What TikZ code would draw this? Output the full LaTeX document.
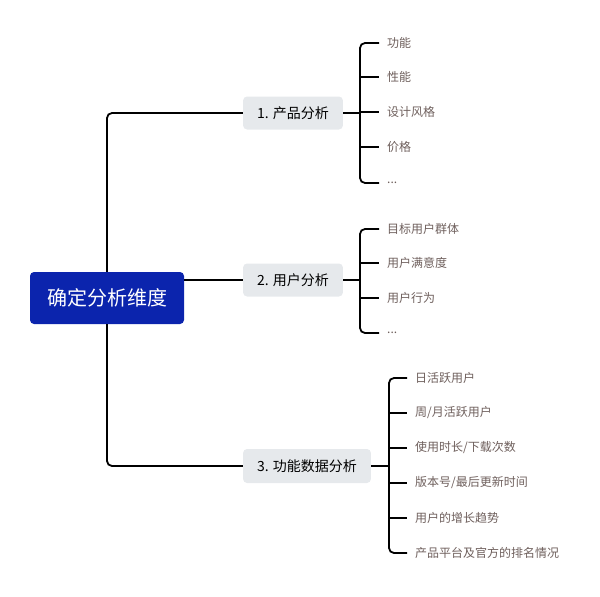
\documentclass[tikz,border=0pt]{standalone}
\usepackage{fontspec}
\setmainfont{Noto Sans CJK SC}
\usetikzlibrary{calc}
\definecolor{rootblue}{HTML}{0B24AD}
\definecolor{topicgray}{HTML}{E6E9EC}
\definecolor{leafbrown}{HTML}{6E5F5C}
\begin{document}
\begin{tikzpicture}[x=1pt,y=-1pt,
  link/.style={line width=1.8pt,black,rounded corners=5pt},
  rootbox/.style={fill=rootblue,text=white,rounded corners=4pt,minimum width=154pt,
    minimum height=52pt,font=\fontsize{20}{24}\selectfont},
  topic/.style={fill=topicgray,rounded corners=4pt,minimum height=33pt,inner xsep=14pt,
    font=\fontsize{14}{17}\selectfont},
  leaf/.style={anchor=west,inner xsep=8pt,text=leafbrown,font=\fontsize{12}{14}\selectfont}]
\useasboundingbox (0,0) rectangle (600,597);
\node[rootbox] (root) at (107,298) {确定分析维度};
\node[topic,minimum width=98pt] (n1) at (293,113) {1. 产品分析};
\node[topic,minimum width=98pt] (n2) at (293,280) {2. 用户分析};
\node[topic,minimum width=126pt,minimum height=34pt] (n3) at (307,466) {3. 功能数据分析};
%% trunk
\draw[link] (root.north) |- (n1.west);
\draw[link] (root.east |- n2.west) -- (n2.west);
\draw[link] (root.south) |- (n3.west);
%% product
\node[leaf] (p1) at (379,43) {功能};
\node[leaf] (p2) at (379,77) {性能};
\node[leaf] (p3) at (379,112) {设计风格};
\node[leaf] (p4) at (379,147) {价格};
\node[leaf] (p5) at (379,183) {...};
\coordinate (j1) at (360,113);
\draw[link] (n1.east) -- (j1);
\draw[link] (p1.west) -| (j1) |- (p5.west);
\foreach \k in {p2,p3,p4}
  \draw[link] (j1 |- \k.west) -- (\k.west);
%% users
\node[leaf] (u1) at (379,229) {目标用户群体};
\node[leaf] (u2) at (379,263) {用户满意度};
\node[leaf] (u3) at (379,298) {用户行为};
\node[leaf] (u4) at (379,333) {...};
\coordinate (j2) at (360,280);
\draw[link] (n2.east) -- (j2);
\draw[link] (u1.west) -| (j2) |- (u4.west);
\foreach \k in {u2,u3}
  \draw[link] (j2 |- \k.west) -- (\k.west);
%% data
\node[leaf] (d1) at (407,378) {日活跃用户};
\node[leaf] (d2) at (407,413) {周/月活跃用户};
\node[leaf] (d3) at (407,448) {使用时长/下载次数};
\node[leaf] (d4) at (407,483) {版本号/最后更新时间};
\node[leaf] (d5) at (407,518) {用户的增长趋势};
\node[leaf] (d6) at (407,553) {产品平台及官方的排名情况};
\coordinate (j3) at (389,466);
\draw[link] (n3.east) -- (j3);
\draw[link] (d1.west) -| (j3) |- (d6.west);
\foreach \k in {d2,d3,d4,d5}
  \draw[link] (j3 |- \k.west) -- (\k.west);
\end{tikzpicture}
\end{document}
